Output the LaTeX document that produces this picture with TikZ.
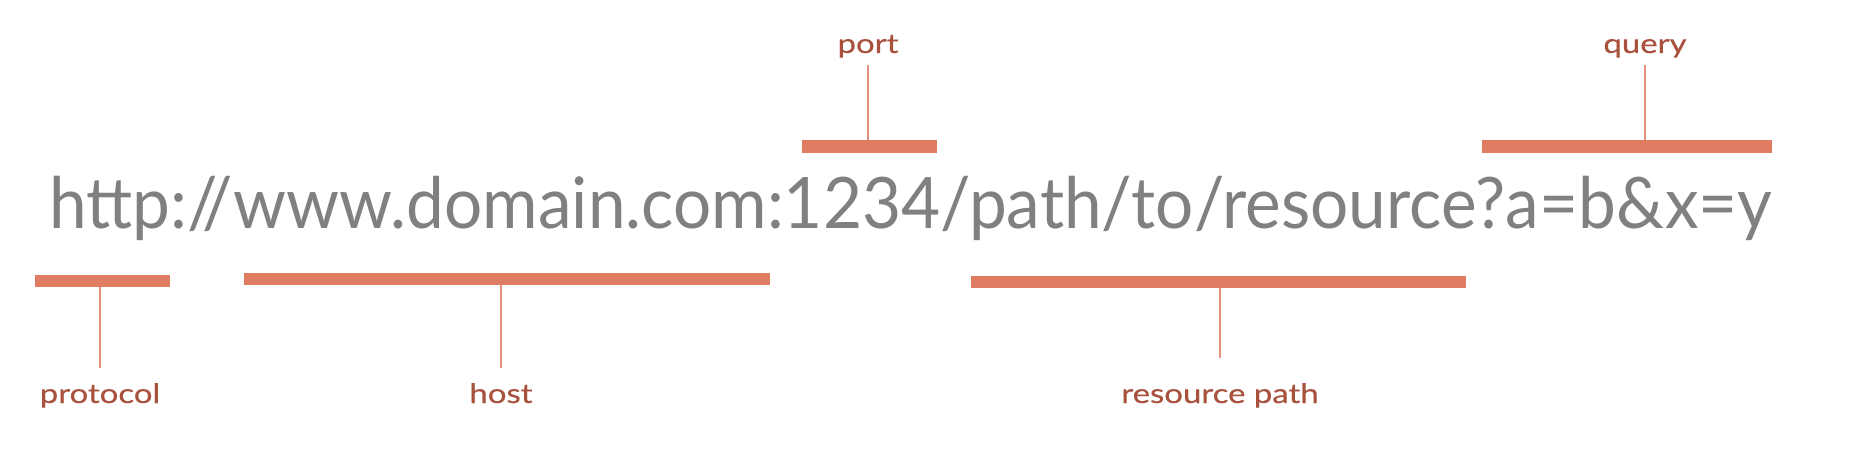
\documentclass[tikz,border=0pt]{standalone}
\usepackage{fontspec}
\setmainfont{Lato}
\newfontfamily\urlfont{Lato}
\newfontfamily\partfont[FakeStretch=1.22,FakeBold=0.4]{Lato}
\usepackage{color}
\definecolor{myurlgray}{RGB}{128,128,128}
\definecolor{mysalmon}{RGB}{224,124,98}
\definecolor{myrust}{RGB}{168,82,62}
\usepackage{tikz}
\usetikzlibrary{calc,positioning}
\tikzstyle{partbar}=[fill=mysalmon,rectangle,inner sep=0pt,minimum height=12.5pt]

\begin{document}
\begin{tikzpicture}[
  x=1pt,
  y=-1pt,
  partlabel/.style={
    text=myrust,
    font=\partfont\fontsize{27}{27}\selectfont,
    inner sep=0pt,
    anchor=base
    },
  tick/.style={draw=mysalmon!85,line width=2pt}
]
\useasboundingbox (0,0) rectangle (1856,476);

\node[anchor=base west,inner sep=0pt,text=myurlgray] (url) at (49,228)
  {\resizebox{1723pt}{\height}{\urlfont\fontsize{71}{71}\selectfont http://www.domain.com:1234/path/to/resource?a=b\&x=y}};

\foreach \nm/\cx/\cy/\barw in {proto/102.5/281/135, host/507/279/526, port/869.5/146.5/135, res/1218.5/282/495, query/1627/146.5/290}
  \node[partbar, minimum width=\barw pt] (bar-\nm) at (\cx,\cy) {};

\foreach \nm/\lx/\ly/\txt in {proto/100/403/protocol, host/501/403/host, res/1220/403/resource path, port/868/53/port, query/1645/53/query}
  \node[partlabel] (lbl-\nm) at (\lx,\ly) {\txt};

\foreach \nm/\gap in {proto/15, host/15, res/25}
  \draw[tick, shorten <=\gap pt] (lbl-\nm.north) -- (lbl-\nm.north |- bar-\nm.south);
\foreach \nm in {port, query}
  \draw[tick, shorten <=7pt] (lbl-\nm.south) -- (lbl-\nm.south |- bar-\nm.north);

\end{tikzpicture}
\end{document}
